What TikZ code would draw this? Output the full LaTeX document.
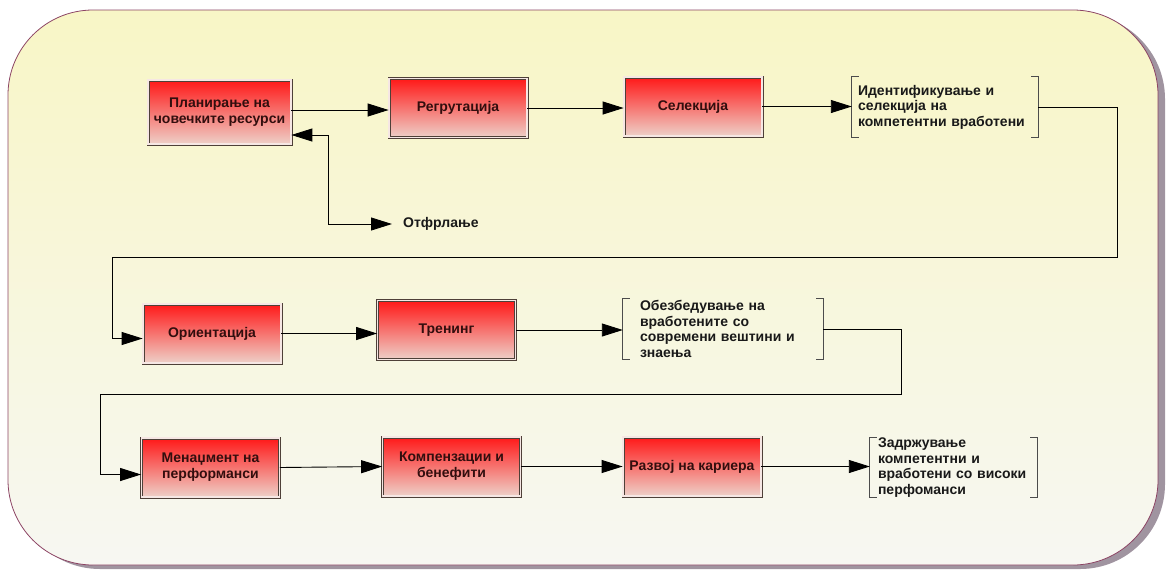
\documentclass[tikz,border=0pt]{standalone}
\usepackage{fontspec}
\setmainfont{Liberation Sans}
\usetikzlibrary{arrows.meta}
\definecolor{boxtop}{RGB}{255,24,24}
\definecolor{boxbot}{RGB}{238,208,200}
\definecolor{boxline}{RGB}{78,64,56}
\definecolor{boxtext}{RGB}{50,14,14}
\definecolor{paneltop}{RGB}{248,246,198}
\definecolor{panelmid}{RGB}{226,225,198}
\definecolor{panelbot}{RGB}{247,247,242}
\definecolor{panelline}{RGB}{140,68,100}
\definecolor{shadowc}{RGB}{160,148,160}
\begin{document}
\begin{tikzpicture}[x=1pt, y=-1pt,
	box/.style={draw=boxline, line width=0.8pt, double=boxbot!50!white, double distance=1.4pt,
		top color=boxtop, bottom color=boxbot, minimum width=138pt, minimum height=59pt,
		inner sep=2pt, align=center, text=boxtext, font=\fontsize{14}{16}\selectfont\bfseries},
	note/.style={minimum height=60pt, inner ysep=0pt, align=left, text=black!90,
		font=\fontsize{14}{15.5}\selectfont\bfseries},
	brk/.style={draw=black!70, line width=1.2pt},
	arr/.style={draw=black, line width=0.9pt, -{Triangle[length=21pt,width=13pt]}}]
	\useasboundingbox (0,0) rectangle (1166,571);
	\fill[shadowc, rounded corners=85pt] (15,14) rectangle (1165,569);
	\shade[top color=paneltop, middle color=panelmid, bottom color=panelbot, draw=panelline,
		line width=0.8pt, rounded corners=85pt] (8,10) rectangle (1158,565);
	
	\node[box, minimum width=143pt, minimum height=64pt] (plan) at (219.5,112) {Планирање на\\човечките ресурси};
	\node[box] (regr) at (458,108) {Регрутација};
	\node[box] (sel) at (693,106.5) {Селекција};
	\node[note, text width=174pt, inner xsep=6pt] (ident) at (945,107) {Идентификување и\\селекција на\\компетентни вработени};
	\node[font=\fontsize{14}{16}\selectfont\bfseries, text=black!90, anchor=west, inner xsep=11pt] (otfr) at (392,224) {Отфрлање};
	\node[box] (orient) at (212,333.5) {Ориентација};
	\node[box] (tren) at (446.5,330) {Тренинг};
	\node[note, text width=166pt, inner xsep=17pt] (obez) at (723,329) {Обезбедување на\\вработените со\\современи вештини и\\знаења};
	\node[box] (men) at (210.5,467.5) {Менаџмент на\\перформанси};
	\node[box] (komp) at (451.5,466.5) {Компензации и\\бенефити};
	\node[box] (razv) at (692,466.5) {Развој на кариера};
	\node[note, text width=151pt, inner xsep=8pt] (zadr) at (953.5,467.5) {Задржување\\компетентни и\\вработени со високи\\перфоманси};
	\coordinate (rej) at (328,135);
	\coordinate (t1) at (1117,257);
	\coordinate (t2) at (112,257);
	\coordinate (t3) at (901,394);
	\coordinate (t4) at (100,394);
	
	\draw[brk] ([xshift=7pt]ident.north west) -- (ident.north west) -- (ident.south west) -- ++(7,0);
	\draw[brk] ([xshift=-7pt]ident.north east) -- (ident.north east) -- (ident.south east) -- ++(-7,0);
	\draw[brk] ([xshift=7pt]obez.north west) -- (obez.north west) -- (obez.south west) -- ++(7,0);
	\draw[brk] ([xshift=-7pt]obez.north east) -- (obez.north east) -- (obez.south east) -- ++(-7,0);
	\draw[brk] ([xshift=7pt]zadr.north west) -- (zadr.north west) -- (zadr.south west) -- ++(7,0);
	\draw[brk] ([xshift=-7pt]zadr.north east) -- (zadr.north east) -- (zadr.south east) -- ++(-7,0);
	
	\draw[arr] ([yshift=2pt]plan.east) -- ([yshift=2pt]plan.east -| regr.west);
	\draw[arr] (regr.east) -- (regr.east -| sel.west);
	\draw[arr] (sel.east) -- (sel.east -| ident.west);
	\draw[arr] (rej) -- (rej -| plan.east);
	\draw[arr] (rej) |- (otfr.west);
	\draw[arr] (ident.east) -| (t1) -- (t2) |- ([yshift=-5pt]orient.west);
	\draw[arr] (orient.east) -- (orient.east -| tren.west);
	\draw[arr] (tren.east) -- (tren.east -| obez.west);
	\draw[arr] (obez.east) -| (t3) -- (t4) |- ([yshift=-7pt]men.west);
	\draw[arr] (men.east) -- (komp.west);
	\draw[arr] (komp.east) -- (razv.west);
	\draw[arr] (razv.east) -- (razv.east -| zadr.west);
\end{tikzpicture}
\end{document}
